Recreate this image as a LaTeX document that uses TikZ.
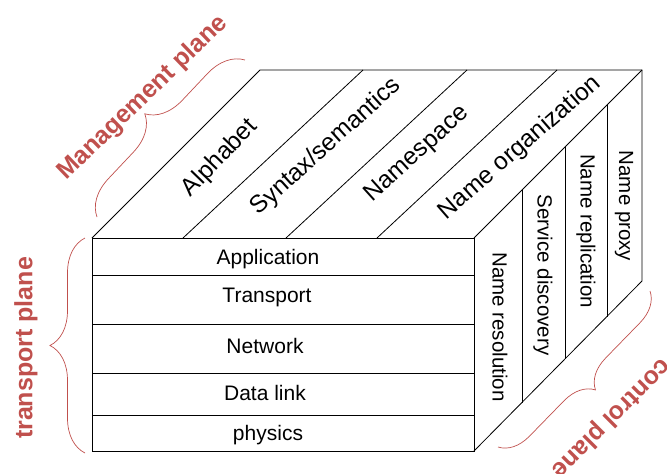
\documentclass[tikz,border=0pt]{standalone}
\usepackage{fontspec}
\setmainfont{Liberation Sans}
\usetikzlibrary{decorations.pathreplacing}
\definecolor{planered}{HTML}{C0504D}

\begin{document}
\begin{tikzpicture}[x=1pt,y=-1pt,line width=0.8pt,
  layer/.style={font=\fontsize{21}{25}\selectfont},
  topname/.style={font=\fontsize{24.5}{29}\selectfont,rotate=#1},
  sidename/.style={font=\fontsize{20.5}{24}\selectfont,rotate=-90},
  plane/.style={font=\bfseries\fontsize{25}{30}\selectfont,text=planered,rotate=#1},
  planebrace/.style={planered,line width=0.7pt,decorate,decoration={brace,amplitude=#1}}]

\useasboundingbox (0,0) rectangle (667,474);

% corners of the box
\coordinate (fa) at (92,238);
\coordinate (fb) at (474,238);
\coordinate (fc) at (474,451);
\coordinate (ba) at (260,70);
\coordinate (bb) at (642,70);
\coordinate (bc) at (642,281);

\draw (fa) rectangle (fc);
\draw (fa) -- (ba) -- (bb) -- (bc) -- (fc);
\draw (fb) -- (bb);

% layers of the front
\foreach \y in {275,324,373,415}
  \draw (92,\y) -- (474,\y);

% strips on top
\foreach \f/\b in {183/363,286/467,377/557}
  \draw (\f,238) -- (\b,70);

% strips on the side
\foreach \x/\t/\b in {522/190/403,565/147/359,607/105/317}
  \draw (\x,\t) -- (\x,\b);

\node at (268,259) [layer] (app)   {Application};
\node at (267,297) [layer] (trans) {Transport};
\node at (265,346) [layer] (net)   {Network};
\node at (265,393) [layer] (link)  {Data link};
\node at (268,435) [layer] (phys)  {physics};

\node at (220,158) [topname=46] (alph) {Alphabet};
\node at (326,147) [topname=42] (syn)  {Syntax/semantics};
\node at (417,154) [topname=42] (nsp)  {Namespace};
\node at (520,148) [topname=41] (norg) {Name organization};

\node at (500,327) [sidename] (res)   {Name resolution};
\node at (543,275) [sidename] (disc)  {Service discovery};
\node at (586,231) [sidename] (repl)  {Name replication};
\node at (624,206) [sidename] (proxy) {Name proxy};

% planes
\draw [planebrace=36] (97,217) -- (245,60);
\draw [planebrace=35] (85,453) -- (85,238);
\draw [planebrace=30] (650,291) -- (498,447);

\node at (143,98)  [plane=44]  (mgmt)  {Management plane};
\node at (26,348)  [plane=90]  (trpl)  {transport plane};
\node at (611,418) [plane=225] (ctrl)  {control plane};

\end{tikzpicture}
\end{document}
